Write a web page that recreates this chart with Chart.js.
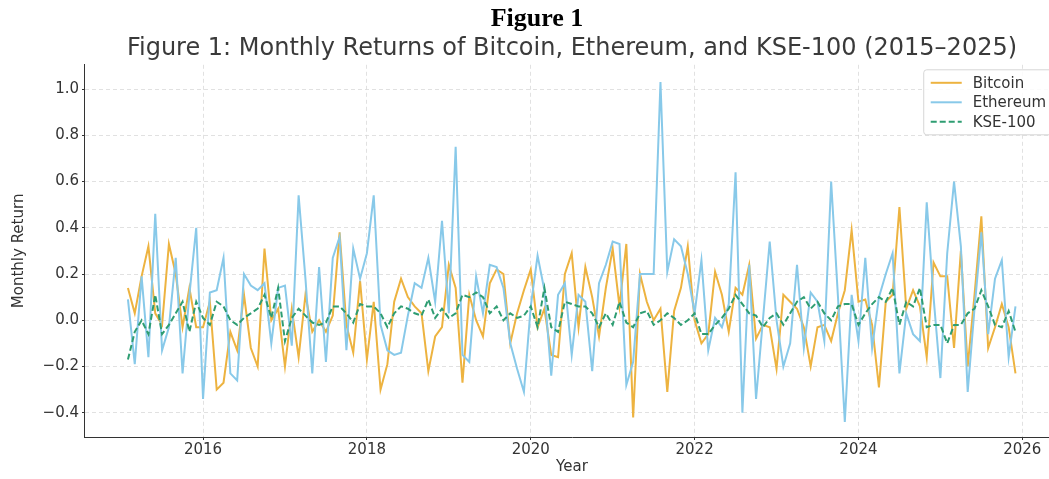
<!DOCTYPE html>
<html>
<head>
<meta charset="utf-8">
<script src="https://cdn.jsdelivr.net/npm/chart.js@4.4.0/dist/chart.umd.min.js"></script>
<style>
  html, body { margin: 0; padding: 0; background: #fff; }
  #wrap { position: relative; width: 1049px; height: 479px; overflow: hidden; }
  #holder { position: absolute; top: 0; left: 0; width: 1142px; height: 479px; }
  #fig {
    position: absolute; top: 3px; left: 0; width: 1074px; text-align: center;
    font: bold 26px 'Liberation Serif', serif; line-height: 30px; color: #000;
  }
</style>
</head>
<body>
<div id="wrap">
  <div id="holder"><canvas id="chart"></canvas></div>
  <div id="fig">Figure 1</div>
</div>
<script>
// Monthly returns, Jan 2015 .. Nov 2025 (month-end)
const START_YEAR = 2015;

const bitcoin = [
  0.14, 0.03, 0.19, 0.32, 0.03, -0.02, 0.33, 0.2, -0.03, 0.14, -0.03, -0.03, 0.08, -0.3, -0.27,
  -0.05, -0.13, 0.11, -0.12, -0.2, 0.31, 0.0, 0.05, -0.2, 0.05, -0.16, 0.11, -0.05, 0.0, -0.05, 0.02, 0.38,
  -0.02, -0.14, 0.17, -0.17, 0.08, -0.3, -0.19, 0.08, 0.18, 0.1, 0.06, 0.03, -0.22, -0.07, -0.03, 0.24, 0.14,
  -0.27, 0.11, 0.0, -0.07, 0.16, 0.22, 0.2, -0.1, 0.03, 0.13, 0.22, -0.03, 0.05, -0.15, -0.16, 0.2, 0.29,
  -0.03, 0.23, 0.1, -0.07, 0.14, 0.31, 0.06, 0.33, -0.42, 0.2, 0.08, 0.0, 0.05, -0.31, 0.04, 0.14, 0.32,
  0.0, -0.1, -0.06, 0.21, 0.11, -0.05, 0.14, 0.11, 0.24, -0.08, -0.02, -0.03, -0.21, 0.11, 0.08, 0.05, -0.03,
  -0.2, -0.03, -0.02, -0.09, 0.03, 0.13, 0.39, 0.08, 0.09, -0.02, -0.29, 0.08, 0.11, 0.49, 0.05, 0.13, 0.06,
  -0.16, 0.25, 0.19, 0.19, -0.12, 0.3, -0.2, 0.11, 0.45, -0.12, -0.03, 0.07, -0.03, -0.23
];

const ethereum = [
  0.09, -0.19, 0.19, -0.16, 0.46, -0.13, -0.03, 0.27, -0.23, 0.11, 0.4, -0.34, 0.12, 0.13, 0.27,
  -0.23, -0.26, 0.2, 0.15, 0.13, 0.16, -0.1, 0.14, 0.15, -0.11, 0.54, 0.18, -0.23, 0.23, -0.18, 0.27, 0.36,
  -0.13, 0.31, 0.18, 0.29, 0.54, -0.02, -0.13, -0.15, -0.14, 0.02, 0.16, 0.14, 0.27, 0.08, 0.43, 0.03, 0.75,
  -0.15, -0.18, 0.19, 0.03, 0.24, 0.23, 0.14, -0.1, -0.21, -0.31, 0.06, 0.28, 0.13, -0.24, 0.11, 0.16, -0.15,
  0.11, 0.08, -0.22, 0.16, 0.24, 0.34, 0.33, -0.28, -0.18, 0.2, 0.2, 0.2, 1.03, 0.21, 0.35, 0.32, 0.2,
  0.03, 0.26, -0.13, 0.01, -0.03, 0.07, 0.64, -0.4, 0.24, -0.34, 0.0, 0.34, 0.0, -0.2, -0.1, 0.24, -0.12,
  0.12, 0.08, -0.09, 0.6, 0.1, -0.44, 0.11, -0.09, 0.27, -0.12, 0.1, 0.2, 0.29, -0.23, 0.03, -0.06, -0.09,
  0.51, 0.1, -0.25, 0.29, 0.6, 0.32, -0.31, 0.05, 0.38, -0.06, 0.18, 0.26, -0.16, 0.06
];

const kse100 = [
  -0.17, -0.05, 0.0, -0.06, 0.11, -0.06, -0.02, 0.03, 0.08, -0.05, 0.08, 0.01, -0.02, 0.08, 0.06,
  0.0, -0.02, 0.01, 0.03, 0.05, 0.11, 0.01, 0.14, -0.09, 0.01, 0.05, 0.02, -0.01, -0.02, -0.01, 0.06, 0.06,
  0.03, -0.01, 0.07, 0.06, 0.06, 0.03, -0.03, 0.03, 0.06, 0.05, 0.03, 0.02, 0.09, 0.01, 0.05, 0.01, 0.03,
  0.11, 0.1, 0.12, 0.1, 0.03, 0.06, 0.0, 0.03, 0.01, 0.02, 0.06, -0.03, 0.14, -0.03, -0.05, 0.08, 0.07,
  0.06, 0.06, 0.03, -0.03, 0.03, -0.02, 0.08, -0.01, -0.03, 0.03, 0.04, -0.02, 0.0, 0.03, 0.01, -0.02, 0.0,
  0.03, -0.06, -0.06, -0.02, 0.01, 0.05, 0.11, 0.07, 0.03, 0.02, -0.03, 0.01, 0.03, -0.02, 0.03, 0.08, 0.1,
  0.05, 0.08, 0.03, 0.0, 0.06, 0.07, 0.07, -0.02, 0.03, 0.07, 0.1, 0.08, 0.14, -0.02, 0.08, 0.06, 0.14,
  -0.03, -0.02, -0.02, -0.1, -0.02, -0.02, 0.03, 0.05, 0.13, 0.06, -0.02, -0.03, 0.04, -0.05
];

// month-end positions as decimal years
const months = bitcoin.map((_, i) => START_YEAR + (i + 1) / 12);

const xTicks = [2016, 2018, 2020, 2022, 2024, 2026];
const yTicks = [-0.4, -0.2, 0.0, 0.2, 0.4, 0.6, 0.8, 1.0];

const FONT = "'DejaVu Sans', sans-serif";
const TEXT = '#333333';

const toPoints = (vals) => vals.map((v, i) => ({ x: months[i], y: v }));

// matplotlib-style legend box inside the upper right of the plot
const legendBox = {
  id: 'legendBox',
  afterDatasetsDraw(chart) {
    const { ctx, chartArea } = chart;
    const items = chart.data.datasets;
    ctx.save();
    ctx.font = '15px ' + FONT;
    const textW = Math.max(...items.map(d => ctx.measureText(d.label).width));
    const pad = 7, lineLen = 31, gap = 11, rowH = 19.5, first = 13;
    const w = pad + lineLen + gap + textW + pad;
    const h = first * 2 + rowH * (items.length - 1);
    const x0 = chartArea.right - 7 - w;
    const y0 = chartArea.top + 5;
    ctx.beginPath();
    ctx.roundRect(x0, y0, w, h, 3);
    ctx.fillStyle = 'rgba(255,255,255,0.85)';
    ctx.fill();
    ctx.strokeStyle = '#d6d6d6';
    ctx.lineWidth = 1;
    ctx.stroke();
    items.forEach((d, i) => {
      const cy = y0 + first + i * rowH;
      ctx.beginPath();
      ctx.setLineDash(d.borderDash || []);
      ctx.strokeStyle = d.borderColor;
      ctx.lineWidth = d.borderWidth;
      ctx.moveTo(x0 + pad, cy);
      ctx.lineTo(x0 + pad + lineLen, cy);
      ctx.stroke();
      ctx.setLineDash([]);
      ctx.fillStyle = TEXT;
      ctx.textBaseline = 'middle';
      ctx.textAlign = 'left';
      ctx.fillText(d.label, x0 + pad + lineLen + gap, cy + 1);
    });
    ctx.restore();
  }
};

new Chart(document.getElementById('chart'), {
  type: 'line',
  data: {
    datasets: [
      {
        label: 'Bitcoin',
        data: toPoints(bitcoin),
        borderColor: '#EDB340',
        borderWidth: 2,
        order: 3,
      },
      {
        label: 'Ethereum',
        data: toPoints(ethereum),
        borderColor: '#88C9E9',
        borderWidth: 2,
        order: 2,
      },
      {
        label: 'KSE-100',
        data: toPoints(kse100),
        borderColor: '#2E9D72',
        borderWidth: 2,
        borderDash: [6, 3],
        order: 1,
      },
    ],
  },
  options: {
    responsive: true,
    maintainAspectRatio: false,
    animation: false,
    parsing: false,
    elements: { point: { radius: 0 }, line: { tension: 0 } },
    layout: { padding: { top: 34, right: 82, bottom: 0, left: 0 } },
    plugins: {
      legend: { display: false },
      tooltip: { enabled: false },
      title: {
        display: true,
        fullSize: false,  // centre over the plot area, as matplotlib does
        text: 'Figure 1: Monthly Returns of Bitcoin, Ethereum, and KSE-100 (2015\u20132025)',
        color: '#3a3a3a',
        font: { family: FONT, size: 24, weight: 'normal' },
        padding: { top: 0, bottom: 2 },
      },
    },
    scales: {
      x: {
        type: 'linear',
        min: 2014.547,
        max: 2026.46,
        afterBuildTicks: (s) => { s.ticks = xTicks.map(v => ({ value: v })); },
        afterFit: (s) => { s.height = 42; },
        grid: { color: '#d9d9d9', lineWidth: 0.8, tickColor: TEXT, tickLength: 3, tickWidth: 1 },
        border: { color: TEXT, width: 1, dash: [4, 3] },
        ticks: {
          color: TEXT, padding: 1, maxRotation: 0, autoSkip: false,
          font: { family: FONT, size: 15 },
          callback: (v) => String(v),
        },
        title: {
          display: true, text: 'Year', color: TEXT,
          font: { family: FONT, size: 15 },
          padding: { top: 0, bottom: 3 },
        },
      },
      y: {
        min: -0.505,
        max: 1.105,
        afterBuildTicks: (s) => { s.ticks = yTicks.map(v => ({ value: v })); },
        afterFit: (s) => { s.width = 84; },
        grid: { color: '#d9d9d9', lineWidth: 0.8, tickColor: TEXT, tickLength: 2, tickWidth: 1 },
        border: { color: TEXT, width: 1, dash: [4, 3] },
        ticks: {
          color: TEXT, padding: 3,
          font: { family: FONT, size: 15 },
          callback: (v) => v.toFixed(1).replace('-', '\u2212'),
        },
        title: {
          display: true, text: 'Monthly Return', color: TEXT,
          font: { family: FONT, size: 15 },
          padding: { top: 10, bottom: 0 },
        },
      },
    },
  },
  plugins: [legendBox],
});
</script>
</body>
</html>
